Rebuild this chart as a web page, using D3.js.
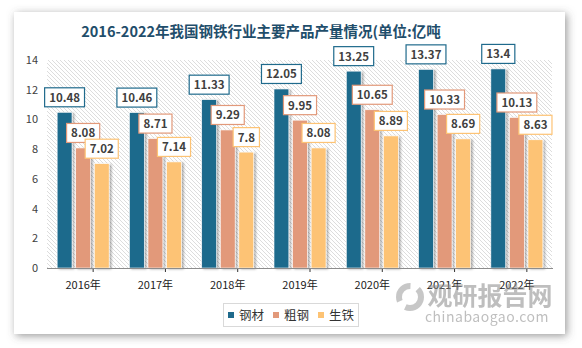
<!DOCTYPE html>
<html>
<head>
<meta charset="utf-8">
<script src="https://cdn.jsdelivr.net/npm/d3@7"></script>
<style>
  body { margin: 0; background: #fff; }
  text { font-family: "Noto Sans CJK SC", "Open Sans", sans-serif; }
</style>
</head>
<body>
<div id="chart"></div>
<script>
// data
let years = ['2016年', '2017年', '2018年', '2019年', '2020年', '2021年', '2022年'];
let seriesNames = ['钢材', '粗钢', '生铁'];
let steelProducts = [10.48, 10.46, 11.33, 12.05, 13.25, 13.37, 13.4];
let crudeSteel = [8.08, 8.71, 9.29, 9.95, 10.65, 10.33, 10.13];
let pigIron = [7.02, 7.14, 7.8, 8.08, 8.89, 8.69, 8.63];
let yTicks = [0, 2, 4, 6, 8, 10, 12, 14];

let allSeries = [steelProducts, crudeSteel, pigIron];
let colors = ['#1f6a8c', '#e2997a', '#fdc374'];

let width = 582;
let height = 348;

var svg = d3.select("#chart")
    .append("svg")
    .attr("width", width)
    .attr("height", height);

var defs = svg.append("defs");

// card shadow
var cardShadow = defs.append("filter").attr("id", "cardShadow")
    .attr("x", "-10%").attr("y", "-10%").attr("width", "120%").attr("height", "120%");
cardShadow.append("feDropShadow")
    .attr("dx", 2).attr("dy", 2).attr("stdDeviation", 4)
    .attr("flood-color", "#555").attr("flood-opacity", 0.6);

// bar shadow
var barShadow = defs.append("filter").attr("id", "barShadow")
    .attr("x", "-30%").attr("y", "-10%").attr("width", "160%").attr("height", "120%");
barShadow.append("feDropShadow")
    .attr("dx", 2).attr("dy", 1).attr("stdDeviation", 1)
    .attr("flood-color", "#000").attr("flood-opacity", 0.3);

// hatch pattern
var pat = defs.append("pattern").attr("id", "hatch")
    .attr("patternUnits", "userSpaceOnUse")
    .attr("width", 4).attr("height", 4);
pat.append("path")
    .attr("d", "M-1,-1 L5,5 M-1,3 L1,5 M3,-1 L5,1")
    .attr("stroke", "#d4d4d4").attr("stroke-width", 0.8);

// card
svg.append("rect")
    .attr("x", 14).attr("y", 12)
    .attr("width", 551).attr("height", 322)
    .attr("fill", "#fff")
    .attr("filter", "url(#cardShadow)");

// title
svg.append("text")
    .attr("x", 261).attr("y", 37)
    .attr("text-anchor", "middle")
    .attr("font-size", 14.5)
    .attr("font-weight", "bold")
    .attr("fill", "#1f4e6b")
    .text("2016-2022年我国钢铁行业主要产品产量情况(单位:亿吨");

var plotLeft = 47, plotRight = 553, plotTop = 60, plotBottom = 268;

// scales
var x = d3.scaleBand()
    .domain(years)
    .range([plotLeft, plotRight]);

var xSub = d3.scaleBand()
    .domain(d3.range(3))
    .range([-26, 26])
    .paddingInner(0.2);

var y = d3.scaleLinear()
    .domain([0, 14])
    .range([plotBottom, plotTop]);

// hatched plot area
svg.append("rect")
    .attr("x", plotLeft).attr("y", plotTop)
    .attr("width", plotRight - plotLeft - 1).attr("height", plotBottom - plotTop)
    .attr("fill", "url(#hatch)");

// y axis labels
svg.append("g")
    .selectAll("text")
    .data(yTicks)
    .enter()
    .append("text")
    .attr("x", 38)
    .attr("y", function (d) { return y(d) + 4; })
    .attr("text-anchor", "end")
    .attr("font-size", 11)
    .attr("fill", "#404040")
    .text(function (d) { return d; });

// bars
allSeries.forEach(function (vals, s) {
    svg.append("g")
        .selectAll("rect")
        .data(vals)
        .enter()
        .append("rect")
        .attr("x", function (d, i) { return x(years[i]) + x.bandwidth() / 2 + xSub(s); })
        .attr("y", function (d) { return y(d); })
        .attr("width", xSub.bandwidth())
        .attr("height", function (d) { return plotBottom - y(d); })
        .attr("fill", colors[s])
        .attr("stroke", "#fff")
        .attr("stroke-width", 0.6)
        .attr("filter", "url(#barShadow)");
});

// baseline and ticks
svg.append("line")
    .attr("x1", plotLeft).attr("x2", plotRight)
    .attr("y1", plotBottom + 0.5).attr("y2", plotBottom + 0.5)
    .attr("stroke", "#8c8c8c");

svg.append("g")
    .selectAll("line")
    .data(years)
    .enter()
    .append("line")
    .attr("x1", function (d) { return x(d) + x.bandwidth() / 2 + 10; })
    .attr("x2", function (d) { return x(d) + x.bandwidth() / 2 + 10; })
    .attr("y1", plotBottom + 1).attr("y2", plotBottom + 4)
    .attr("stroke", "#333");

// x labels
svg.append("g")
    .selectAll("text")
    .data(years)
    .enter()
    .append("text")
    .attr("x", function (d) { return x(d) + x.bandwidth() / 2; })
    .attr("y", 289)
    .attr("text-anchor", "middle")
    .attr("font-size", 11)
    .attr("fill", "#222")
    .text(function (d) { return d; });

// value labels
allSeries.forEach(function (vals, s) {
    var g = svg.append("g");
    vals.forEach(function (v, i) {
        var cx = x(years[i]) + x.bandwidth() / 2 + xSub(s) + xSub.bandwidth() / 2;
        var lbl = g.append("g");
        var txt = lbl.append("text")
            .attr("x", cx)
            .attr("y", y(v) - 10.5)
            .attr("text-anchor", "middle")
            .attr("font-size", 11.5)
            .attr("font-weight", "bold")
            .attr("font-family", "'Open Sans', sans-serif")
            .attr("fill", "#404040")
            .text(v);
        var w = txt.node().getComputedTextLength() + 9;
        lbl.insert("rect", "text")
            .attr("x", cx - w / 2)
            .attr("y", y(v) - 24.5)
            .attr("width", w)
            .attr("height", 19)
            .attr("fill", "#fff")
            .attr("stroke", colors[s])
            .attr("stroke-width", 1.2);
    });
});

// legend
var legend = svg.append("g");
legend.append("rect")
    .attr("x", 223.5).attr("y", 303.5)
    .attr("width", 135).attr("height", 23)
    .attr("fill", "#fff")
    .attr("stroke", "#d9d9d9");

var legendX = [228, 273, 318];
seriesNames.forEach(function (name, s) {
    legend.append("rect")
        .attr("x", legendX[s]).attr("y", 312)
        .attr("width", 6).attr("height", 6)
        .attr("fill", colors[s]);
    legend.append("text")
        .attr("x", legendX[s] + 11).attr("y", 320)
        .attr("font-size", 12.5)
        .attr("fill", "#333")
        .text(name);
});

// watermark
var wm = svg.append("g").attr("opacity", 0.55);
wm.append("circle")
    .attr("cx", 410).attr("cy", 297).attr("r", 11)
    .attr("fill", "none").attr("stroke", "#9a9a9a").attr("stroke-width", 6)
    .attr("stroke-dasharray", "22 8");
wm.append("text")
    .attr("x", 490).attr("y", 305)
    .attr("text-anchor", "middle")
    .attr("font-size", 25)
    .attr("font-weight", "bold")
    .attr("fill", "#8a8a8a")
    .text("观研报告网");
wm.append("text")
    .attr("x", 487).attr("y", 322)
    .attr("text-anchor", "middle")
    .attr("font-size", 14)
    .attr("fill", "#8a8a8a")
    .attr("font-family", "'DejaVu Sans', sans-serif")
    .attr("letter-spacing", 0.5)
    .text("chinabaogao.com");
</script>
</body>
</html>
